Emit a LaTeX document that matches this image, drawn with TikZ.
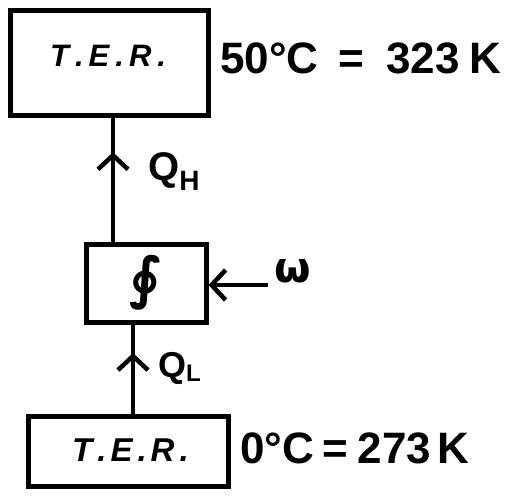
\documentclass[tikz,border=0pt]{standalone}
\usepackage{fontspec}
\setmainfont{Liberation Sans}
\newfontfamily\dejavu{DejaVu Sans}
\usetikzlibrary{arrows.meta,decorations.markings}
\begin{document}
\begin{tikzpicture}[x=1pt,y=-1pt,
  box/.style={draw,line width=5pt,rectangle,inner sep=0pt},
  txt/.style={inner sep=0pt,anchor=west},
  wire/.style={line width=4.5pt},
  tip/.style={-{Straight Barb[length=14pt,width=30pt,line width=4.5pt]}},
  midarrow/.style={decoration={markings,mark=at position #1 with {\arrow{Straight Barb[length=14pt,width=30pt,line width=4.5pt]}}},postaction={decorate}}
]
\useasboundingbox (0,0) rectangle (510,495);
\node[box,minimum width=198pt,minimum height=104pt] (top) at (109,63) {};
\node[txt,font=\bfseries\itshape\fontsize{31}{31}\selectfont] (ttxt) at (50,56) {T\hspace{6pt}.\hspace{5pt}E\hspace{6pt}.\hspace{5pt}R\hspace{6pt}.};
\node[txt,font=\bfseries\fontsize{44}{44}\selectfont] (th) at (220,58) {50\textdegree C\hspace{20pt}=\hspace{22pt}323\hspace{10pt}K};
\node[box,minimum width=120pt,minimum height=78pt] (sm) at (146,283) {};
\node[inner sep=0pt,font=\dejavu\bfseries\fontsize{56}{56}\selectfont] (cyc) at (145,283) {∮};
\node[box,minimum width=200pt,minimum height=70pt] (bot) at (128,451) {};
\node[txt,font=\bfseries\itshape\fontsize{33}{33}\selectfont] (btxt) at (72,450) {T\hspace{5pt}.\hspace{4pt}E\hspace{5pt}.\hspace{4pt}R\hspace{5pt}.};
\node[txt,font=\bfseries\fontsize{44}{44}\selectfont] (tl) at (240,448) {0\textdegree C\hspace{8pt}=\hspace{10pt}273\hspace{6pt}K};
\coordinate (qhx) at (113,0);
\coordinate (qlx) at (133,0);
\draw[wire,midarrow=0.72] (sm.north -| qhx) -- (top.south -| qhx);
\draw[wire,midarrow=0.68] (bot.north -| qlx) -- (sm.south -| qlx);
\coordinate (wstart) at (268,285);
\draw[wire,tip] (wstart) -- (sm.east |- wstart);
\node[txt,font=\bfseries\fontsize{40}{40}\selectfont] (qh) at (148,172) {Q\raisebox{-10pt}{\fontsize{28}{28}\selectfont H}};
\node[txt,font=\bfseries\fontsize{36}{36}\selectfont] (ql) at (158,368) {Q\raisebox{-4pt}{\fontsize{24}{24}\selectfont L}};
\node[txt,font=\dejavu\bfseries\fontsize{42}{42}\selectfont] (w) at (274,271) {ω};
\end{tikzpicture}
\end{document}
